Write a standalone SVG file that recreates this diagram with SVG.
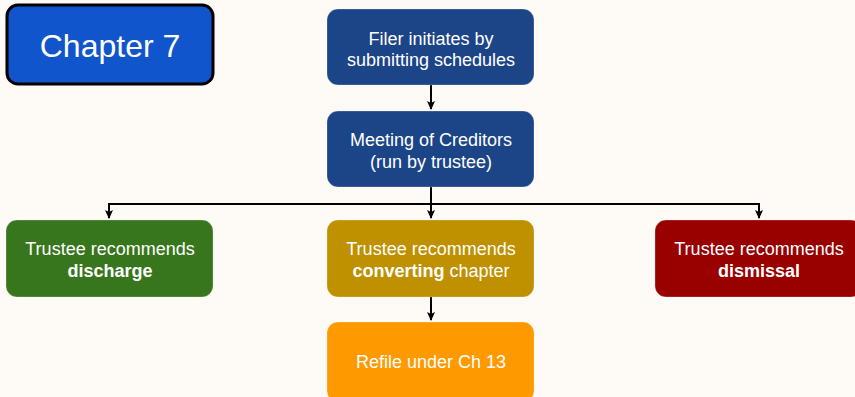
<svg xmlns="http://www.w3.org/2000/svg" width="855" height="397" viewBox="0 0 855 397">
<defs>
<marker id="ah" markerWidth="10" markerHeight="10" refX="8" refY="5" orient="auto" markerUnits="userSpaceOnUse">
<path d="M0,1 L9,5 L0,9 L2,5 Z" fill="#000"/>
</marker>
<style>
.box{stroke:#ffffff;stroke-opacity:0.25;stroke-width:1}
.t{font-family:"Liberation Sans",Arial,sans-serif;font-size:18px;fill:#fff;text-anchor:middle}
.b{font-weight:bold}
.c{fill:none;stroke:#000;stroke-width:2}
</style>
</defs>
<rect width="855" height="397" fill="#fefaf5"/>
<g id="chapter7">
<rect x="7" y="5" width="206" height="79" rx="11" fill="#1155cc" stroke="#000" stroke-width="3"/>
<text class="t" x="110" y="57" style="font-size:32px">Chapter 7</text>
</g>
<g id="connectors">
<path class="c" d="M431,85 V109" marker-end="url(#ah)"/>
<path class="c" d="M431,187 V218" marker-end="url(#ah)"/>
<path class="c" d="M431,204 H109 V218" marker-end="url(#ah)"/>
<path class="c" d="M431,204 H759 V218" marker-end="url(#ah)"/>
<path class="c" d="M431,297 V320" marker-end="url(#ah)"/>
</g>
<g id="filer">
<rect class="box" x="327" y="9" width="207" height="76" rx="11" fill="#1c4587"/>
<text class="t" x="431" y="45">Filer initiates by</text>
<text class="t" x="431" y="66">submitting schedules</text>
</g>
<g id="meeting">
<rect class="box" x="327" y="111" width="207" height="76" rx="11" fill="#1c4587"/>
<text class="t" x="431" y="146">Meeting of Creditors</text>
<text class="t" x="431" y="168">(run by trustee)</text>
</g>
<g id="discharge">
<rect class="box" x="6" y="220" width="207" height="77" rx="11" fill="#38761d"/>
<text class="t" x="110" y="255">Trustee recommends</text>
<text class="t b" x="110" y="277">discharge</text>
</g>
<g id="converting">
<rect class="box" x="327" y="220" width="207" height="77" rx="11" fill="#bf9000"/>
<text class="t" x="431" y="255">Trustee recommends</text>
<text class="t" x="431" y="277"><tspan class="b">converting</tspan> chapter</text>
</g>
<g id="dismissal">
<rect class="box" x="655" y="220" width="207" height="77" rx="11" fill="#990000"/>
<text class="t" x="759" y="255">Trustee recommends</text>
<text class="t b" x="759" y="277">dismissal</text>
</g>
<g id="refile">
<rect class="box" x="327" y="322" width="207" height="80" rx="11" fill="#ff9900"/>
<text class="t" x="431" y="368">Refile under Ch 13</text>
</g>
</svg>
